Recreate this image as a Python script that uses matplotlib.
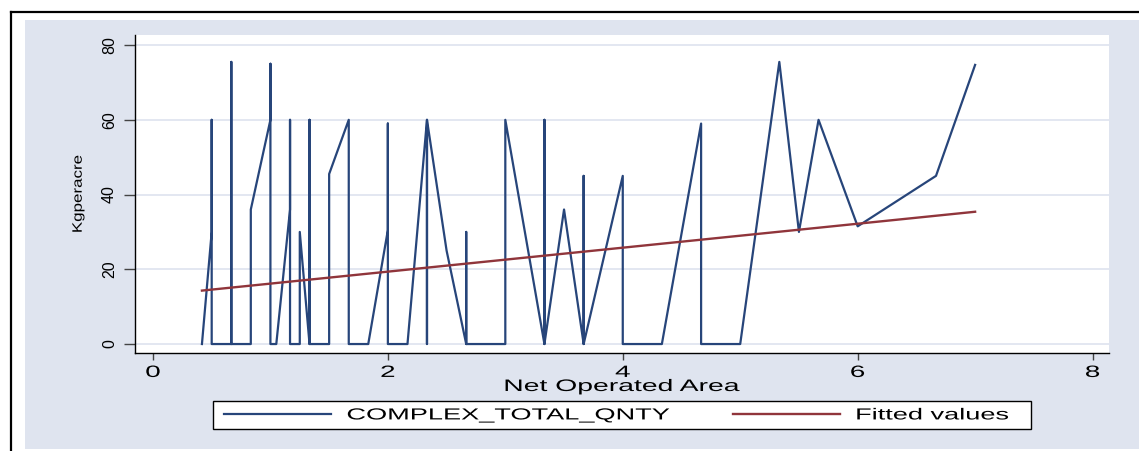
import numpy as np
import matplotlib
matplotlib.use("Agg")
import matplotlib.pyplot as plt
import matplotlib.patheffects as pe
from matplotlib.transforms import Affine2D
from matplotlib.patches import Rectangle
from matplotlib.lines import Line2D

plt.rcParams['font.family'] = ['Liberation Sans', 'DejaVu Sans']

# Data
area = [0.417, 0.5, 0.5, 0.5, 0.667, 0.667, 0.667, 0.833, 0.833, 1.0, 1.0, 1.0,
        1.05, 1.167, 1.167, 1.167, 1.25, 1.25, 1.333, 1.333, 1.333, 1.5, 1.5,
        1.667, 1.667, 1.833, 2.0, 2.0, 2.0, 2.167, 2.333, 2.333, 2.333, 2.5,
        2.667, 2.667, 2.667, 3.0, 3.0, 3.333, 3.333, 3.333, 3.5, 3.667, 3.667,
        3.667, 4.0, 4.0, 4.333, 4.667, 4.667, 5.0, 5.333, 5.5, 5.667, 6.0,
        6.667, 7.0]
qnty = [0, 30, 60, 0, 0, 75.5, 0, 0, 36, 60, 75, 0,
        0, 36, 60, 0, 0, 30, 0, 60, 0, 0, 45.5,
        60, 0, 0, 30.5, 59, 0, 0, 60, 0, 60, 25,
        0, 30, 0, 0, 60, 0, 60, 0, 36, 0, 45,
        0, 45, 0, 0, 59, 0, 0, 75.5, 30, 60, 31.5,
        45, 74.7]
fit_area = [0.417, 7.0]
fit_qnty = [14.3, 35.4]

xticks = [0, 2, 4, 6, 8]
yticks = [0, 20, 40, 60, 80]

W, H = 1139, 451
K = 1.7            # the source image has horizontally stretched lettering
bg = '#dfe4ef'
navy = '#27457a'
maroon = '#90353b'


class Widen(pe.AbstractPathEffect):
    # stretch a text path sideways about its centre (or left edge)
    def __init__(self, k, anchor='center'):
        super().__init__()
        self.k = k
        self.anchor = anchor

    def draw_path(self, renderer, gc, tpath, affine, rgbFace=None):
        ext = tpath.get_extents(affine)
        cx = ext.x0 if self.anchor == 'left' else (ext.x0 + ext.x1) / 2
        tr = affine + Affine2D().translate(-cx, 0).scale(self.k, 1).translate(cx, 0)
        renderer.draw_path(gc, tpath, tr, rgbFace)


fig = plt.figure(figsize=(W / 100, H / 100), dpi=100)

# graph region + outer frame
fig.patches.append(Rectangle((25 / W, 2 / H), 1 - 25 / W, (449 - 20) / H,
                             transform=fig.transFigure, facecolor=bg,
                             edgecolor='none', zorder=-1))
fig.add_artist(Line2D([11 / W, 11 / W], [0, 1 - 12 / H], color='black', lw=1.6))
fig.add_artist(Line2D([11 / W, 1], [1 - 12 / H, 1 - 12 / H], color='black', lw=1.6))

ax = fig.add_axes([135 / W, 1 - 353 / H, (1109 - 135) / W, (353 - 35) / H])
ax.set_facecolor('white')

ax.plot(area, qnty, color=navy, lw=1.6, label='COMPLEX_TOTAL_QNTY')
ax.plot(fit_area, fit_qnty, color=maroon, lw=1.7, label='Fitted values')

ax.set_xlim(-0.153, 8.14)
ax.set_ylim(-2.4, 82.7)
ax.yaxis.grid(True, color='#e0e5f0', lw=1.3)
ax.set_axisbelow(True)
for s in ['top', 'right']:
    ax.spines[s].set_visible(False)
for s in ['left', 'bottom']:
    ax.spines[s].set_color('black')
    ax.spines[s].set_linewidth(1.0)

ax.set_xticks(xticks)
ax.set_yticks(yticks, labels=[str(v) for v in yticks], rotation=90, va='center')
ax.tick_params(axis='x', length=5, width=1, pad=3.6, labelsize=11.8, color='#444444')
ax.tick_params(axis='y', length=8, width=1, pad=5, labelsize=11.5, color='#444444')
for lbl in ax.get_xticklabels():
    lbl.set_path_effects([Widen(K)])

ax.set_xlabel('Net Operated Area', fontsize=12, path_effects=[Widen(K)])
ax.xaxis.set_label_coords(0.5, (353 - 379) / 318)
ax.set_ylabel('Kgperacre', fontsize=12.2, va='center', path_effects=[Widen(0.8)])
ax.yaxis.set_label_coords((78 - 135) / 974, 0.5)

# Legend
fs = 11.5
fs_px = fs * 100 / 72
tmp = fig.text(0, 0, 'COMPLEX_TOTAL_QNTY', fontsize=fs)
w1 = tmp.get_window_extent(fig.canvas.get_renderer()).width
tmp.remove()

handles, labels = ax.get_legend_handles_labels()
leg = fig.legend(handles, labels, loc='center left',
                 bbox_to_anchor=(224 / W, 1 - 415 / H), ncol=2, frameon=False,
                 borderpad=0, borderaxespad=0, prop={'size': fs},
                 handlelength=107 / fs_px, handletextpad=16 / fs_px,
                 columnspacing=(733 - 347 - w1) / fs_px)
for t in leg.get_texts():
    t.set_path_effects([Widen(K, 'left')])
fig.patches.append(Rectangle((213 / W, 1 - 429 / H), (1031 - 213) / W, 28 / H,
                             transform=fig.transFigure, facecolor='white',
                             edgecolor='black', lw=1.0, zorder=1))

fig.savefig('out.png', dpi=100)
